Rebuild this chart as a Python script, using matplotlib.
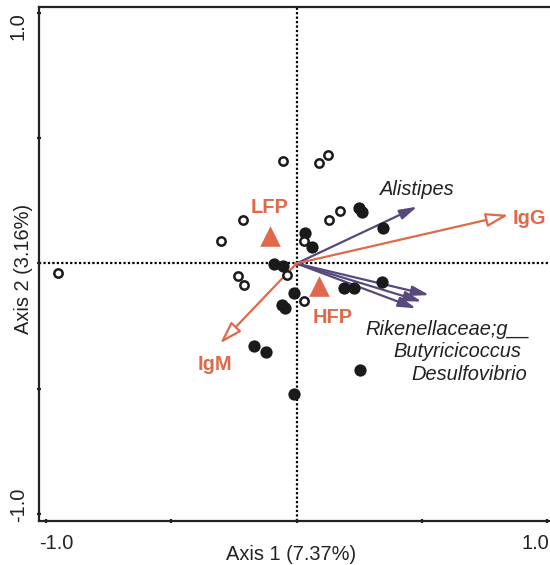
import matplotlib
matplotlib.use("Agg")
import matplotlib.pyplot as plt
from matplotlib.patches import FancyArrowPatch

plt.rcParams["font.family"] = ["Liberation Sans", "DejaVu Sans"]

# Sample scores on the first two axes
open_x = [-0.055, 0.125, 0.091, -0.215, -0.301, 0.175, 0.130, 0.030, -0.039, -0.235, -0.208, 0.031, -0.951]
open_y = [0.409, 0.433, 0.402, 0.172, 0.090, 0.210, 0.174, 0.091, -0.045, -0.050, -0.086, -0.149, -0.039]

filled_x = [0.250, 0.263, 0.344, 0.035, 0.062, -0.090, -0.053, -0.010, -0.058, -0.044, 0.343, 0.190, 0.231,
            -0.170, -0.123, 0.253, -0.010]
filled_y = [0.220, 0.207, 0.141, 0.123, 0.065, -0.002, -0.010, -0.119, -0.166, -0.178, -0.073, -0.099, -0.099,
            -0.328, -0.352, -0.425, -0.521]

# Group centroids
groups = ["LFP", "HFP"]
group_x = [-0.106, 0.091]
group_y = [0.110, -0.088]

# Environmental vectors (immunoglobulins)
env_names = ["IgG", "IgM"]
env_x = [0.846, -0.305]
env_y = [0.194, -0.319]

# Taxon vectors
taxa = ["Alistipes", "Rikenellaceae;g__", "Butyricicoccus", "Desulfovibrio"]
taxa_x = [0.482, 0.530, 0.500, 0.477]
taxa_y = [0.227, -0.126, -0.152, -0.179]

ORANGE = "#E0694B"
PURPLE = "#57497C"
DARK = "#222222"

fig = plt.figure(figsize=(5.5, 5.65), dpi=100)
ax = fig.add_axes([39 / 550, 44 / 565, 511 / 550, 514 / 565])
ax.set_xlim(-1.028, 1.012)
ax.set_ylim(-1.028, 1.024)

for side in ["left", "bottom", "top"]:
    ax.spines[side].set_linewidth(1.6)
    ax.spines[side].set_color(DARK)
ax.spines["right"].set_visible(False)

ticks = [-1.0, -0.5, 0.0, 0.5, 1.0]
ax.set_xticks(ticks)
ax.set_yticks(ticks)
ax.set_xticklabels([])
ax.set_yticklabels([])
ax.tick_params(direction="inout", length=3, width=1.6, color=DARK)

# Tick labels at the ends of each axis
tk = dict(fontsize=14.4, color=DARK)
ax.text(-1.028, -1.028 - 0.05, "-1.0", ha="left", va="top", clip_on=False, **tk)
ax.text(1.008, -1.028 - 0.05, "1.0", ha="right", va="top", clip_on=False, **tk)
ax.text(-1.028 - 0.044, 1.004, "1.0", ha="right", va="top", rotation=90, clip_on=False, **tk)
ax.text(-1.028 - 0.044, -1.032, "-1.0", ha="right", va="bottom", rotation=90, clip_on=False, **tk)

ax.text(-0.022, -1.16, "Axis 1 (7.37%)", ha="center", va="center", fontsize=14.4, color=DARK, clip_on=False)
ax.text(-1.09, -0.022, "Axis 2 (3.16%)", ha="center", va="center", rotation=90, fontsize=14.4,
        color=DARK, clip_on=False)

# Origin cross-hairs
ax.axhline(0, color="black", lw=1.6, ls=(0, (1, 1)), zorder=1)
ax.axvline(0, color="black", lw=1.6, ls=(0, (1, 1)), zorder=1)

# Vectors
for x, y in zip(taxa_x, taxa_y):
    ax.add_patch(FancyArrowPatch((0, 0), (x, y), arrowstyle="-|>,head_length=1.05,head_width=0.3",
                                 mutation_scale=10, color=PURPLE, lw=1.6, shrinkA=0, shrinkB=0, zorder=3))
for x, y in zip(env_x, env_y):
    ax.add_patch(FancyArrowPatch((0, 0), (x, y), arrowstyle="-|>,head_length=1.35,head_width=0.42",
                                 mutation_scale=10, fc="white", ec=ORANGE, lw=1.6,
                                 shrinkA=0, shrinkB=0, zorder=3))

# Samples
ax.scatter(filled_x, filled_y, s=78, c="#1a1a1a", linewidths=0, zorder=4)
ax.scatter(open_x, open_y, s=36, facecolors="white", edgecolors="#1a1a1a", linewidths=1.8, zorder=4)

# Group centroids
ax.scatter(group_x, group_y, marker="^", s=220, c=ORANGE, linewidths=0, zorder=5)

lab = dict(fontsize=14.4, color=ORANGE, fontweight="bold", ha="left", va="baseline", zorder=6)
ax.text(-0.183, 0.2016, groups[0], **lab)
ax.text(0.063, -0.2375, groups[1], **lab)
ax.text(0.862, 0.158, env_names[0], **lab)
ax.text(-0.396, -0.425, env_names[1], **lab)

it = dict(fontsize=14.4, color=DARK, style="italic", ha="left", va="baseline", zorder=6)
ax.text(0.333, 0.273, taxa[0], **it)
ax.text(0.277, -0.285, taxa[1], **it)
ax.text(0.385, -0.372, taxa[2], **it)
ax.text(0.457, -0.465, taxa[3], **it)

fig.savefig("out.png", dpi=100)
